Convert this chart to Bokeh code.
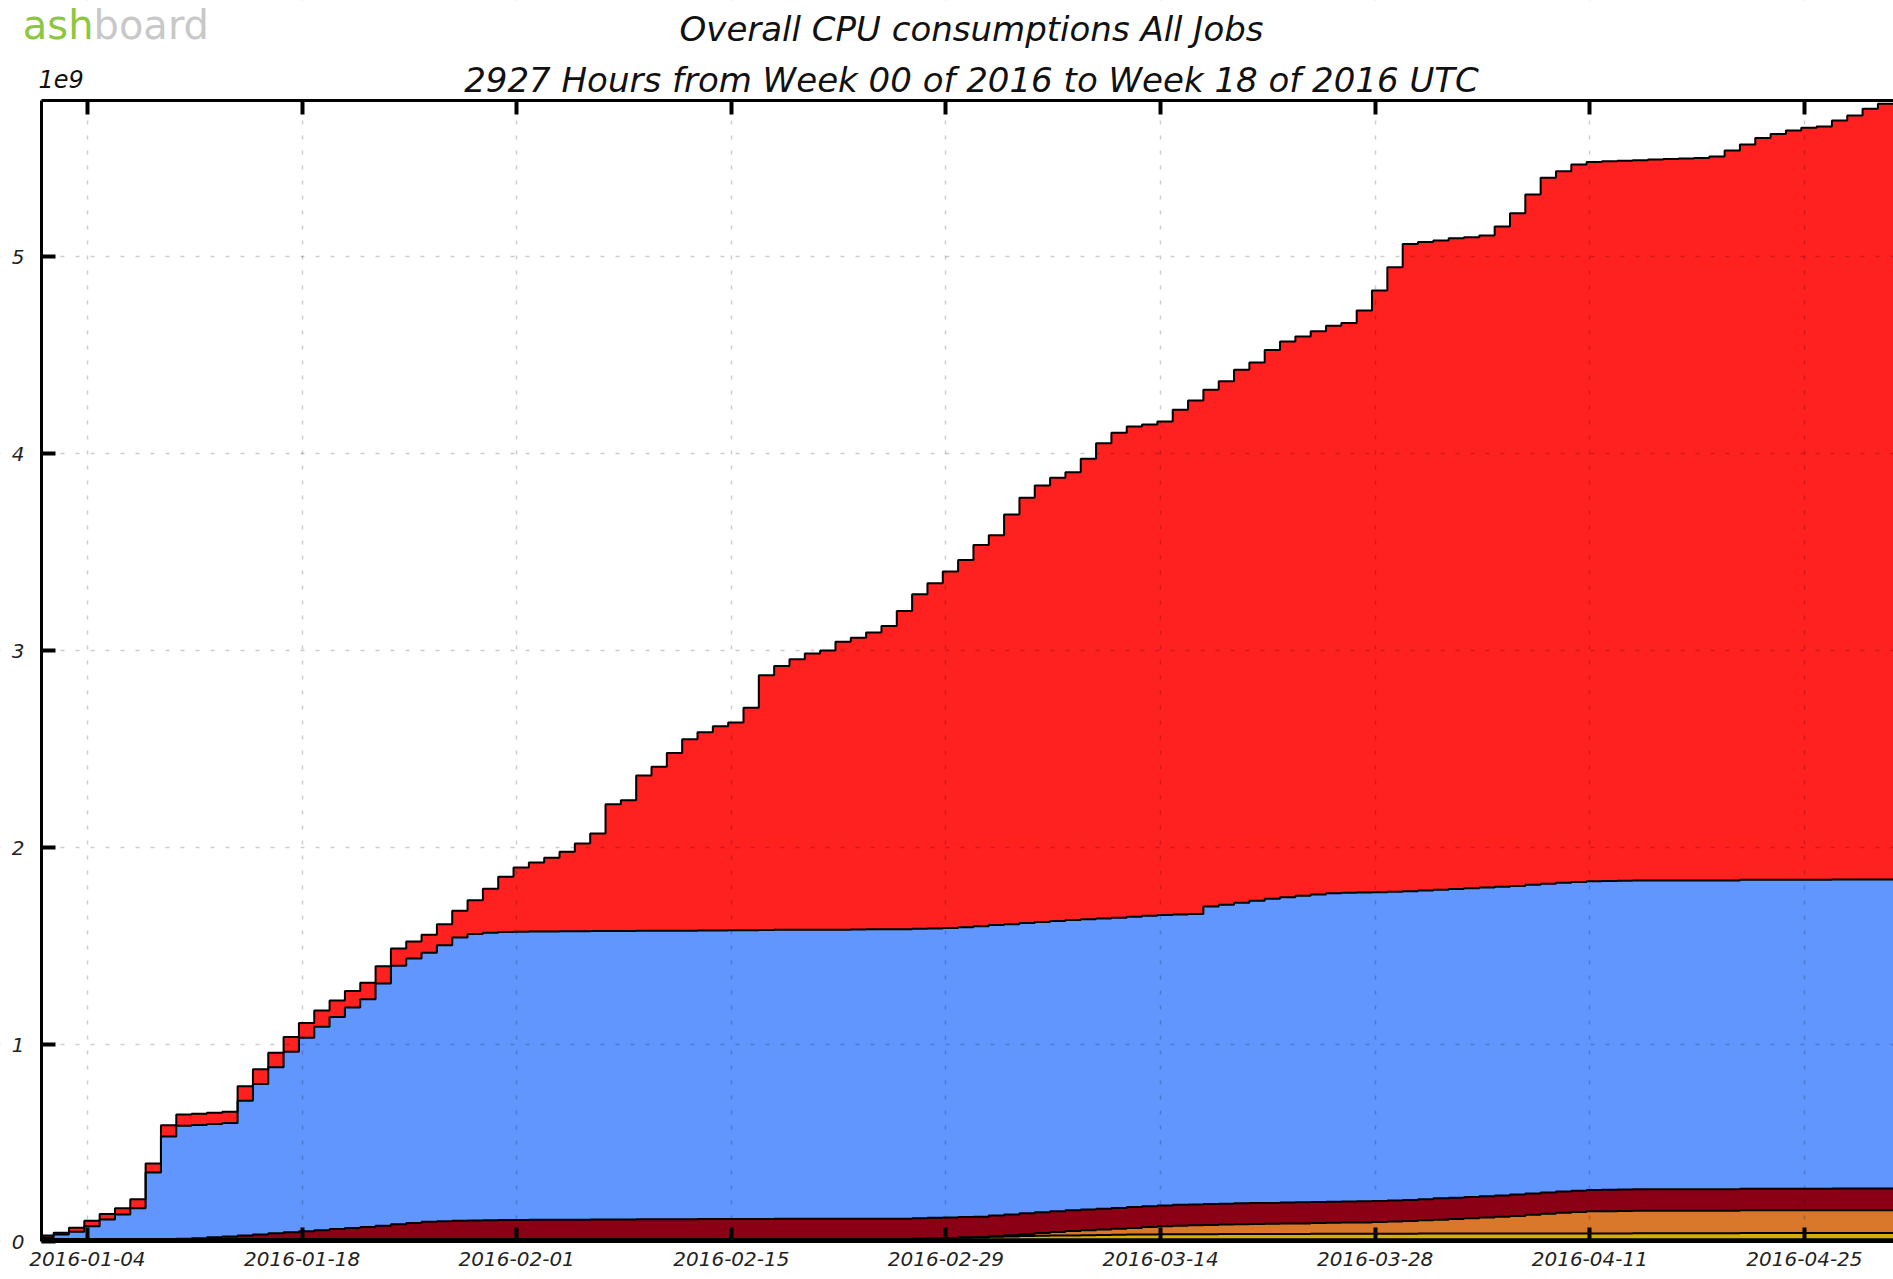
import numpy as np
import pandas as pd
from bokeh.plotting import figure
from bokeh.models import (Range1d, FixedTicker, DatetimeAxis, LinearAxis, DatetimeTickFormatter,
                          Label, Grid, BoxAnnotation)
from bokeh.embed import file_html
from bokeh.resources import INLINE

# ---------------- data (cumulative CPU, units of 1e9, one value per daily bin) ----------------
BIN_START = "2015-12-31 19:00"      # first daily bin start (UTC)
PERIOD_START = "2016-01-01 00:00"
TITLE = "Overall CPU consumptions All Jobs"
SUBTITLE = "2927 Hours from Week 00 of 2016 to Week 18 of 2016 UTC"
OFFSET_TEXT = "1e9"
LOGO_GREEN = "ash"
LOGO_GREY = "board"
x_tick_dates = ["2016-01-04", "2016-01-18", "2016-02-01", "2016-02-15", "2016-02-29",
                "2016-03-14", "2016-03-28", "2016-04-11", "2016-04-25"]
y_ticks = [0, 1, 2, 3, 4, 5]

cpu_black = [
    0.012, 0.012, 0.012, 0.012, 0.012, 0.012, 0.012, 0.012, 0.012, 0.012,
    0.012, 0.012, 0.012, 0.012, 0.012, 0.012, 0.012, 0.012, 0.012, 0.012,
    0.012, 0.012, 0.012, 0.012, 0.012, 0.012, 0.012, 0.012, 0.012, 0.012,
    0.012, 0.012, 0.012, 0.012, 0.012, 0.012, 0.012, 0.012, 0.012, 0.012,
    0.012, 0.012, 0.012, 0.012, 0.012, 0.012, 0.012, 0.012, 0.012, 0.012,
    0.012, 0.012, 0.012, 0.012, 0.012, 0.012, 0.012, 0.012, 0.012, 0.012,
    0.012, 0.012, 0.012, 0.012, 0.012, 0.012, 0.012, 0.012, 0.012, 0.012,
    0.012, 0.012, 0.012, 0.012, 0.012, 0.012, 0.012, 0.012, 0.012, 0.012,
    0.012, 0.012, 0.012, 0.012, 0.012, 0.012, 0.012, 0.012, 0.012, 0.012,
    0.012, 0.012, 0.012, 0.012, 0.012, 0.012, 0.012, 0.012, 0.012, 0.012,
    0.012, 0.012, 0.012, 0.012, 0.012, 0.012, 0.012, 0.012, 0.012, 0.012,
    0.012, 0.012, 0.012, 0.012, 0.012, 0.012, 0.012, 0.012, 0.012, 0.012,
    0.012,
]
cpu_yellow = [
    0, 0, 0, 0, 0, 0, 0, 0, 0, 0,
    0, 0, 0, 0, 0, 0, 0, 0, 0, 0,
    0, 0, 0, 0, 0, 0, 0, 0, 0, 0,
    0, 0, 0, 0, 0, 0, 0, 0, 0, 0,
    0, 0, 0, 0, 0, 0, 0, 0, 0, 0,
    0, 0, 0, 0, 0, 0, 0, 0.002, 0.004, 0.006,
    0.008, 0.010, 0.012, 0.014, 0.016, 0.017, 0.018, 0.019, 0.020, 0.021,
    0.022, 0.023, 0.024, 0.025, 0.025, 0.025, 0.025, 0.026, 0.026, 0.026,
    0.026, 0.026, 0.026, 0.027, 0.027, 0.027, 0.027, 0.027, 0.027, 0.027,
    0.028, 0.028, 0.028, 0.028, 0.028, 0.028, 0.028, 0.029, 0.029, 0.029,
    0.029, 0.029, 0.029, 0.029, 0.030, 0.030, 0.030, 0.030, 0.030, 0.030,
    0.030, 0.031, 0.031, 0.031, 0.031, 0.031, 0.031, 0.031, 0.031, 0.031,
    0.031,
]
cpu_orange = [
    0, 0, 0, 0, 0, 0, 0, 0, 0, 0,
    0, 0, 0, 0, 0, 0, 0, 0, 0, 0,
    0, 0, 0, 0, 0, 0, 0, 0, 0, 0,
    0, 0, 0, 0, 0, 0, 0, 0, 0, 0,
    0, 0, 0, 0, 0, 0, 0, 0, 0, 0,
    0, 0, 0, 0, 0, 0, 0, 0, 0, 0,
    0, 0, 0.003, 0.006, 0.010, 0.014, 0.018, 0.022, 0.025, 0.028,
    0.031, 0.034, 0.037, 0.040, 0.043, 0.045, 0.047, 0.048, 0.050, 0.051,
    0.052, 0.053, 0.054, 0.055, 0.056, 0.057, 0.058, 0.060, 0.062, 0.065,
    0.068, 0.071, 0.074, 0.078, 0.082, 0.086, 0.090, 0.095, 0.100, 0.105,
    0.109, 0.112, 0.113, 0.114, 0.114, 0.114, 0.114, 0.114, 0.114, 0.114,
    0.114, 0.115, 0.115, 0.115, 0.115, 0.115, 0.115, 0.116, 0.116, 0.116,
    0.116,
]
cpu_darkred = [
    0, 0, 0, 0, 0, 0, 0, 0, 0, 0.002,
    0.005, 0.009, 0.013, 0.018, 0.024, 0.030, 0.035, 0.040, 0.045, 0.051,
    0.056, 0.061, 0.068, 0.075, 0.082, 0.088, 0.091, 0.093, 0.095, 0.096,
    0.097, 0.097, 0.098, 0.098, 0.099, 0.099, 0.100, 0.100, 0.100, 0.101,
    0.101, 0.101, 0.101, 0.102, 0.102, 0.102, 0.102, 0.102, 0.103, 0.103,
    0.103, 0.103, 0.103, 0.103, 0.104, 0.104, 0.104, 0.104, 0.104, 0.104,
    0.104, 0.104, 0.105, 0.105, 0.105, 0.105, 0.105, 0.105, 0.105, 0.105,
    0.105, 0.106, 0.106, 0.106, 0.106, 0.106, 0.106, 0.106, 0.106, 0.106,
    0.106, 0.107, 0.107, 0.107, 0.107, 0.107, 0.107, 0.107, 0.107, 0.107,
    0.107, 0.108, 0.108, 0.108, 0.108, 0.108, 0.108, 0.108, 0.108, 0.108,
    0.108, 0.109, 0.109, 0.109, 0.109, 0.109, 0.109, 0.109, 0.109, 0.109,
    0.109, 0.110, 0.110, 0.110, 0.110, 0.110, 0.110, 0.110, 0.110, 0.110,
    0.110,
]
cpu_blue = [
    0.008, 0.023, 0.038, 0.066, 0.100, 0.125, 0.157, 0.338, 0.521, 0.574,
    0.575, 0.576, 0.577, 0.684, 0.764, 0.842, 0.916, 0.982, 1.033, 1.077,
    1.120, 1.157, 1.230, 1.313, 1.342, 1.366, 1.401, 1.438, 1.454, 1.459,
    1.462, 1.463, 1.463, 1.464, 1.464, 1.464, 1.464, 1.464, 1.464, 1.464,
    1.464, 1.465, 1.465, 1.465, 1.465, 1.466, 1.466, 1.467, 1.467, 1.467,
    1.467, 1.468, 1.468, 1.469, 1.469, 1.469, 1.469, 1.469, 1.469, 1.469,
    1.471, 1.474, 1.474, 1.474, 1.474, 1.474, 1.474, 1.474, 1.474, 1.474,
    1.474, 1.474, 1.474, 1.474, 1.474, 1.474, 1.510, 1.518, 1.526, 1.535,
    1.544, 1.550, 1.556, 1.561, 1.566, 1.567, 1.567, 1.567, 1.567, 1.567,
    1.567, 1.567, 1.567, 1.567, 1.567, 1.567, 1.567, 1.567, 1.567, 1.567,
    1.567, 1.567, 1.567, 1.567, 1.567, 1.567, 1.567, 1.567, 1.567, 1.567,
    1.567, 1.568, 1.568, 1.568, 1.568, 1.568, 1.568, 1.568, 1.568, 1.568,
    1.568,
]
cpu_red = [
    0.010, 0.010, 0.020, 0.027, 0.027, 0.032, 0.046, 0.046, 0.057, 0.057,
    0.057, 0.057, 0.057, 0.074, 0.074, 0.074, 0.075, 0.075, 0.083, 0.083,
    0.083, 0.083, 0.087, 0.087, 0.087, 0.091, 0.106, 0.136, 0.171, 0.223,
    0.280, 0.326, 0.351, 0.374, 0.404, 0.445, 0.495, 0.644, 0.664, 0.788,
    0.833, 0.902, 0.972, 1.006, 1.036, 1.055, 1.130, 1.294, 1.339, 1.373,
    1.403, 1.417, 1.462, 1.481, 1.506, 1.540, 1.615, 1.699, 1.753, 1.810,
    1.865, 1.935, 1.979, 2.079, 2.158, 2.216, 2.250, 2.273, 2.337, 2.412,
    2.461, 2.488, 2.494, 2.505, 2.562, 2.607, 2.623, 2.657, 2.705, 2.732,
    2.786, 2.821, 2.839, 2.859, 2.880, 2.892, 2.955, 3.054, 3.171, 3.286,
    3.291, 3.295, 3.304, 3.305, 3.310, 3.351, 3.415, 3.504, 3.584, 3.612,
    3.642, 3.651, 3.653, 3.655, 3.657, 3.660, 3.663, 3.666, 3.668, 3.676,
    3.706, 3.732, 3.766, 3.786, 3.804, 3.817, 3.824, 3.853, 3.879, 3.913,
    3.939,
]

# bottom -> top stacking order and colours
layers = [
    (cpu_black, "#141414"),
    (cpu_yellow, "#d4ae00"),
    (cpu_orange, "#d9772b"),
    (cpu_darkred, "#8b0014"),
    (cpu_blue, "#6196ff"),
    (cpu_red, "#ff2020"),
]
N = len(cpu_red)
for vals, _ in layers:
    assert len(vals) == N, len(vals)

# ---------------- geometry (pixels of the page) ----------------
W, H = 1893, 1279
AX_LEFT_PX = 41        # left axis line
AX_TOP_PX = 100        # top frame line
AX_BOTTOM_PX = 1241    # bottom axis line (value 0)
PX_PER_DAY = 15.33
PX_PER_UNIT = 197.0
TICK_LEN = 14
FONT = "DejaVu Sans"
DAY_MS = 86400000.0
BASELINE_SHIFT = 0.36   # Bokeh places an "alphabetic" label this many font-sizes low

def ms(ts):
    return (pd.Timestamp(ts) - pd.Timestamp("1970-01-01")) / pd.Timedelta(milliseconds=1)

T0 = ms(PERIOD_START)                               # x of the left axis line
X_MIN = T0 - AX_LEFT_PX / PX_PER_DAY * DAY_MS       # page x = 0
X_MAX = X_MIN + W / PX_PER_DAY * DAY_MS             # page x = W
Y_MAX = AX_BOTTOM_PX / PX_PER_UNIT                  # page y = 0
Y_MIN = -(H - AX_BOTTOM_PX) / PX_PER_UNIT           # page y = H
Y_TOP = (AX_BOTTOM_PX - AX_TOP_PX) / PX_PER_UNIT    # top frame line

def px_x(px):
    return X_MIN + px / PX_PER_DAY * DAY_MS

def px_y(py):
    return (AX_BOTTOM_PX - py) / PX_PER_UNIT

p = figure(width=W, height=H, x_range=Range1d(X_MIN, X_MAX), y_range=Range1d(Y_MIN, Y_MAX),
           x_axis_location=None, y_axis_location=None,
           output_backend="svg", toolbar_location=None, min_border=0)
p.grid.visible = False          # drop the default (auto-ticked) grids
p.outline_line_color = None
p.background_fill_color = "white"
p.border_fill_color = "white"

# ---------------- stacked cumulative step areas ----------------
times = pd.date_range(BIN_START, periods=N + 1, freq="D")
lower = np.zeros(N + 1)
tops = []
for vals, color in layers:
    v = np.array(list(vals) + [vals[-1]], dtype=float)
    upper = lower + v
    p.varea_step(x=times, y1=lower, y2=upper, step_mode="after",
                 fill_color=color, fill_alpha=1.0)
    tops.append(upper)
    lower = upper
for top in tops:
    p.step(x=times, y=top, mode="after", line_color="black", line_width=2)

# ---------------- grids (drawn over the fills, faint) ----------------
xticker = FixedTicker(ticks=[ms(d) for d in x_tick_dates], minor_ticks=[])
yticker = FixedTicker(ticks=y_ticks, minor_ticks=[])
for dim, tk in ((0, xticker), (1, yticker)):
    p.add_layout(Grid(dimension=dim, ticker=tk, grid_line_color="black", grid_line_alpha=0.2,
                      grid_line_width=1.5, grid_line_dash="4 11", level="annotation"))

# white masks outside the plotting box (hide grid lines / first partial bin there)
for kw in (dict(bottom=Y_TOP), dict(top=0), dict(right=T0)):
    p.add_layout(BoxAnnotation(fill_color="white", fill_alpha=1.0, line_color=None,
                               level="annotation", **kw))

# ---------------- axes ----------------
fmt = DatetimeTickFormatter(days="%Y-%m-%d", months="%Y-%m-%d", hours="%Y-%m-%d",
                            years="%Y-%m-%d")

def style_axis(ax):
    ax.axis_line_width = 3
    ax.axis_line_color = "black"
    ax.major_tick_in = TICK_LEN
    ax.major_tick_out = 0
    ax.major_tick_line_width = 4
    ax.major_tick_line_color = "black"
    ax.minor_tick_line_color = None
    ax.major_label_text_font = FONT
    ax.major_label_text_font_style = "italic"
    ax.major_label_text_color = "#222222"
    ax.level = "overlay"

xa = DatetimeAxis(ticker=xticker, formatter=fmt, fixed_location=0, bounds=(T0, X_MAX))
style_axis(xa)
xa.major_label_text_font_size = "20px"
xa.major_label_standoff = 10
p.add_layout(xa, "below")

ta = DatetimeAxis(ticker=xticker, formatter=fmt, fixed_location=Y_TOP, bounds=(T0, X_MAX))
style_axis(ta)
ta.major_label_text_color = None
ta.major_label_text_alpha = 0
p.add_layout(ta, "above")

ya = LinearAxis(ticker=yticker, fixed_location=T0, bounds=(0, Y_TOP))
style_axis(ya)
ya.major_label_text_font_size = "20px"
ya.major_label_standoff = 17
p.add_layout(ya, "left")

# ---------------- texts ----------------
def label(px, py, text, size, align, color="#111111", style="italic"):
    # py is the wanted baseline in page pixels
    y = px_y(py - BASELINE_SHIFT * size)
    p.add_layout(Label(x=px_x(px), y=y, text=text, text_font=FONT,
                       text_font_style=style, text_font_size=f"{size}px", text_align=align,
                       text_baseline="alphabetic", text_color=color))

label(971, 41, TITLE, 34, "center")
label(971, 92, SUBTITLE, 34, "center")
label(38, 87, OFFSET_TEXT, 24, "left")
label(93, 39, LOGO_GREEN, 40, "right", color="#8dc63f", style="normal")
label(93, 39, LOGO_GREY, 40, "left", color="#c8c8c8", style="normal")

open("out.html", "w").write(file_html(p, INLINE))
